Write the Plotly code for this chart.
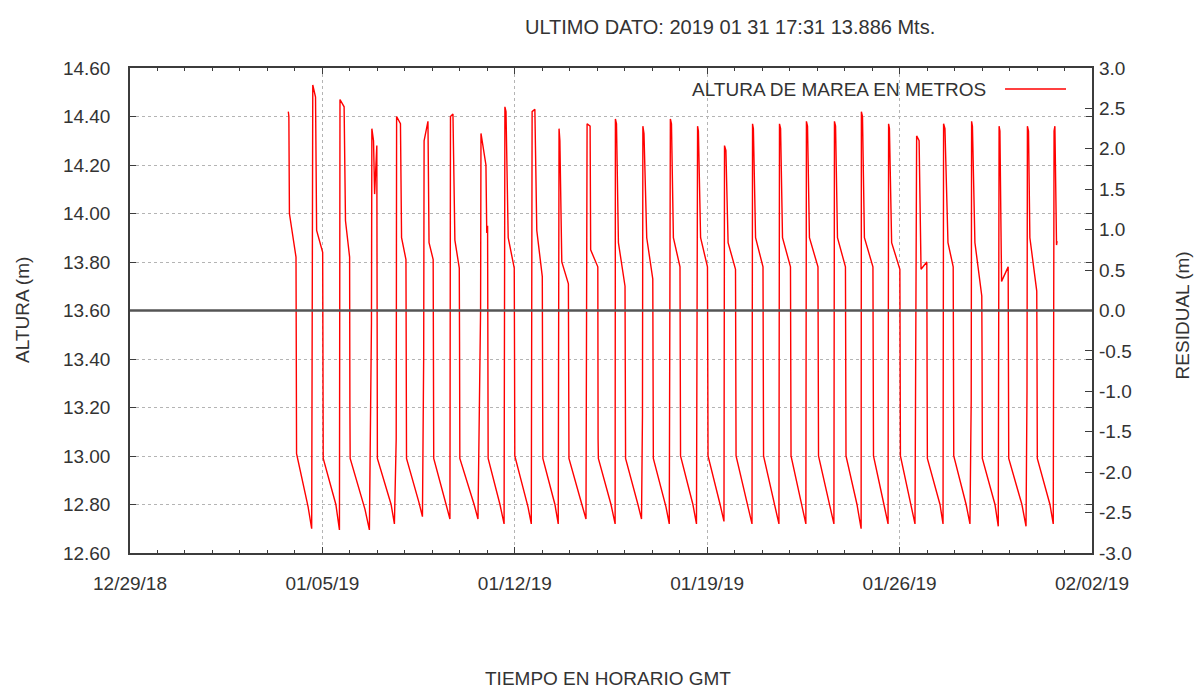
import datetime as dt
import plotly.graph_objects as go

# Serie de altura de marea, un ciclo por día (tiempos en días de enero 2019, fracción de día)
subida       = [3.76, 4.65, 5.64, 6.80, 7.70, 8.70, 9.66, 10.77, 11.64, 12.63, 13.61, 14.63, 15.66, 16.66, 17.66,
                18.65, 19.63, 20.65, 21.63, 22.61, 23.63, 24.61, 25.60, 26.62, 27.60, 28.62, 29.62, 30.65, 31.62]
escalon_sub  = [None, None, None, 13.55, 13.07, 13.41, None, 13.60, None, None, None, None, None, 13.17, None,
                None, None, None, None, None, None, None, None, None, None, 13.23, None, 13.27, None]
pico         = [14.42, 14.53, 14.47, 14.35, 14.40, 14.30, 14.40, 14.33, 14.44, 14.42, 14.35, 14.37, 14.39, 14.36, 14.39,
                14.36, 14.28, 14.37, 14.37, 14.38, 14.38, 14.42, 14.37, 14.32, 14.37, 14.38, 14.36, 14.36, 14.34]
fin_pico     = [3.78, 4.75, 5.79, 6.86, 7.84, 8.84, 9.75, 10.95, 11.68, 12.73, 13.64, 14.74, 15.70, 16.70, 17.70,
                18.68, 19.68, 20.68, 21.67, 22.65, 23.67, 24.65, 25.63, 26.71, 27.65, 28.65, 29.65, 30.69, 31.65]
pico_fin     = [14.40, 14.48, 14.44, 14.30, 14.37, 14.38, 14.41, 14.20, 14.42, 14.43, 14.30, 14.36, 14.37, 14.33, 14.37,
                14.34, 14.26, 14.35, 14.35, 14.36, 14.36, 14.40, 14.35, 14.30, 14.35, 14.36, 14.34, 14.34, 14.36]
t_tras       = [3.80, 4.79, 5.84, 6.90, 7.88, 8.88, 9.82, 10.98, 11.76, 12.80, 13.71, 14.76, 15.77, 16.80, 17.77,
                18.76, 19.76, 20.76, 21.74, 22.72, 23.74, 24.72, 25.71, 26.78, 27.76, 28.74, 29.71, 30.74, 31.71]
tras_pico    = [14.00, 13.93, 13.97, 14.08, 13.90, 13.88, 13.89, 13.92, 13.90, 13.93, 13.80, 13.85, 13.88, 13.90, 13.90,
                13.90, 13.88, 13.90, 13.90, 13.90, 13.90, 13.90, 13.88, 13.77, 13.88, 13.88, 13.72, 13.90, 13.87]
bajada       = [4.04, 5.01, 5.99, 6.98, 8.04, 9.03, 9.98, 11.01, 11.98, 13.00, 13.95, 15.02, 16.01, 17.02, 18.01,
                19.01, 20.03, 21.03, 22.03, 23.03, 24.03, 25.03, 26.01, 26.99, 27.95, 28.99, 29.95, 30.99, 31.73]
antes_bajada = [13.82, 13.84, 13.82, 14.28, 13.81, 13.81, 13.775, 13.95, 13.775, 13.74, 13.71, 13.78, 13.70, 13.73, 13.78,
                13.78, 13.77, 13.78, 13.78, 13.78, 13.78, 13.78, 13.77, 13.80, 13.78, 13.66, 13.78, 13.68, 13.886]
escalon_baj  = [None, 13.27, 13.20, 13.26, None, 13.27, 13.47, 13.07, 13.42, None, None, 13.07, 13.35, None, None,
                None, None, None, None, None, None, None, None, 13.35, None, 13.41, None, 13.38, None]
inicio_bajo  = [13.01, 12.99, 12.99, 12.99, 12.99, 12.99, 12.99, 12.99, 13.00, 12.99, 12.99, 12.99, 12.99, 12.99, 13.00,
                13.00, 13.00, 13.00, 13.00, 13.00, 13.00, 13.00, 13.00, 12.99, 13.00, 12.99, 12.99, 12.99, None]
t_medio      = [4.48, 5.49, 6.55, 7.50, 8.51, 9.50, 10.52, 11.46, 12.48, 13.46, 14.44, 15.50, 16.48, 17.50, 18.48,
                19.47, 20.48, 21.47, 22.45, 23.47, 24.45, 25.43, 26.41, 27.47, 28.42, 29.47, 30.45, 31.47, None]
medio_bajo   = [12.79, 12.80, 12.78, 12.80, 12.81, 12.80, 12.80, 12.80, 12.79, 12.80, 12.80, 12.80, 12.80, 12.79, 12.80,
                12.80, 12.80, 12.80, 12.80, 12.80, 12.80, 12.80, 12.80, 12.80, 12.80, 12.80, 12.80, 12.80, None]
t_minimo     = [4.61, 5.62, 6.71, 7.62, 8.64, 9.64, 10.66, 11.61, 12.60, 13.58, 14.59, 15.65, 16.61, 17.62, 18.61,
                19.61, 20.63, 21.61, 22.59, 23.61, 24.60, 25.58, 26.56, 27.58, 28.56, 29.59, 30.60, 31.59, None]
minimo       = [12.70, 12.695, 12.695, 12.72, 12.75, 12.74, 12.74, 12.72, 12.72, 12.72, 12.74, 12.72, 12.74, 12.72, 12.72,
                12.73, 12.72, 12.72, 12.72, 12.72, 12.70, 12.72, 12.72, 12.72, 12.72, 12.71, 12.71, 12.72, None]

ejes_y = ["14.60", "14.40", "14.20", "14.00", "13.80", "13.60", "13.40", "13.20", "13.00", "12.80", "12.60"]
residual = [3.0, 2.5, 2.0, 1.5, 1.0, 0.5, 0.0, -0.5, -1.0, -1.5, -2.0, -2.5, -3.0]

BASE = dt.datetime(2019, 1, 1)


def fecha(d):
    return BASE + dt.timedelta(days=d - 1)


t, h = [], []
for i in range(len(subida)):
    if escalon_sub[i] is not None:
        t.append(subida[i] - 0.015)
        h.append(escalon_sub[i])
    t += [subida[i], fin_pico[i], t_tras[i], bajada[i]]
    h += [pico[i], pico_fin[i], tras_pico[i], antes_bajada[i]]
    if inicio_bajo[i] is None:
        break
    if escalon_baj[i] is not None:
        t.append(bajada[i] + 0.01)
        h.append(escalon_baj[i])
    t += [bajada[i] + 0.02, t_medio[i], t_minimo[i]]
    h += [inicio_bajo[i], medio_bajo[i], minimo[i]]

FONT = "Liberation Sans, Arial, sans-serif"
GRIS = "#3c3c3c"

fig = go.Figure()
fig.add_trace(go.Scatter(x=[fecha(d) for d in t], y=h, mode="lines",
                         line=dict(color="#ff0000", width=1.4), showlegend=False, hoverinfo="skip"))
fig.add_trace(go.Scatter(x=[fecha(4)], y=[0], yaxis="y2", mode="markers",
                         marker=dict(opacity=0), showlegend=False, hoverinfo="skip"))

fig.update_layout(
    width=1194, height=692,
    margin=dict(l=130, r=102, t=68, b=139),
    paper_bgcolor="white", plot_bgcolor="white",
    font=dict(family=FONT, size=19, color="#333333"),
    xaxis=dict(
        type="date",
        range=[dt.datetime(2018, 12, 29), dt.datetime(2019, 2, 2)],
        tick0="2018-12-29", dtick=7 * 86400000, tickformat="%m/%d/%y",
        ticks="inside", ticklen=6, tickcolor=GRIS, tickwidth=1,
        showline=True, linecolor=GRIS, linewidth=1.5, mirror="ticks",
        showgrid=True, gridcolor="#b4b4b4", griddash="dot", gridwidth=1,
        minor=dict(ticks="inside", ticklen=3, dtick=86400000, tick0="2018-12-29",
                   tickcolor=GRIS, showgrid=False),
        ticklabelstandoff=12, zeroline=False,
    ),
    yaxis=dict(
        range=[12.6, 14.6],
        tickvals=[float(v) for v in ejes_y], ticktext=ejes_y,
        ticks="inside", ticklen=6, tickcolor=GRIS,
        showline=True, linecolor=GRIS, linewidth=1.5, mirror="ticks",
        showgrid=True, gridcolor="#b4b4b4", griddash="dot", gridwidth=1,
        ticklabelstandoff=14, zeroline=False,
    ),
    yaxis2=dict(
        overlaying="y", side="right", range=[-3, 3],
        tickvals=residual, ticktext=[f"{v:.1f}" for v in residual],
        ticks="inside", ticklen=7, tickcolor=GRIS,
        showgrid=False, showline=False, zeroline=False,
        ticklabelstandoff=6,
    ),
)

# Recuadro de la leyenda y línea de residual cero
fig.add_shape(type="rect", xref="paper", yref="y", x0=0.4283, x1=0.9854, y0=14.385, y1=14.6,
              fillcolor="white", line=dict(width=0), layer="between")
fig.add_shape(type="line", xref="paper", yref="y", x0=0, x1=1, y0=13.6, y1=13.6,
              line=dict(color="#555555", width=2.5), layer="above")
fig.add_shape(type="line", xref="paper", yref="paper", x0=0.9096, x1=0.973, y0=0.9567, y1=0.9567,
              line=dict(color="#ff0000", width=1.5))

fig.add_annotation(text="ALTURA DE MAREA EN METROS", xref="paper", yref="paper", x=0.8919, y=0.9567,
                   xanchor="right", yanchor="middle", showarrow=False, font=dict(size=19))
fig.add_annotation(text="ULTIMO DATO: 2019 01 31 17:31 13.886 Mts.", xref="paper", yref="paper",
                   x=0.6237, y=1.0845, xanchor="center", yanchor="middle", showarrow=False,
                   font=dict(size=20))
fig.add_annotation(text="TIEMPO EN HORARIO GMT", xref="paper", yref="paper", x=0.497, y=-0.258,
                   xanchor="center", yanchor="middle", showarrow=False, font=dict(size=19))
fig.add_annotation(text="ALTURA (m)", xref="paper", yref="paper", x=-0.1123, y=0.501,
                   xanchor="center", yanchor="middle", textangle=-90, showarrow=False, font=dict(size=19))
fig.add_annotation(text="RESIDUAL (m)", xref="paper", yref="paper", x=1.0936, y=0.49,
                   xanchor="center", yanchor="middle", textangle=-90, showarrow=False, font=dict(size=19))

fig.write_html("out.html")
